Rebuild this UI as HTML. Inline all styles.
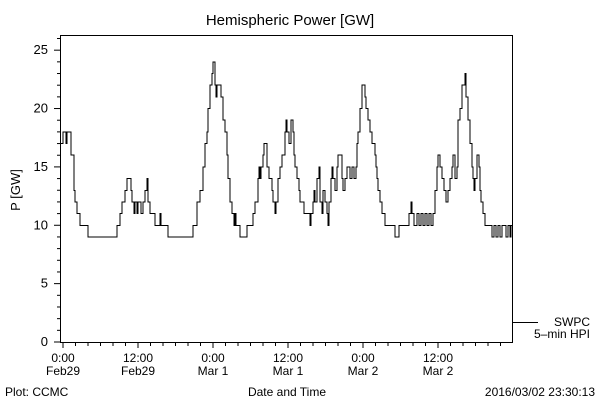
<!DOCTYPE html>
<html><head><meta charset="utf-8"><style>
body{margin:0;background:#fff}
svg{display:block;font-family:"Liberation Sans",sans-serif}
</style></head><body>
<svg id="c" width="600" height="400" xmlns="http://www.w3.org/2000/svg">
<rect width="600" height="400" fill="#fff"/>
<text x="290" y="25" font-size="15" text-anchor="middle">Hemispheric Power [GW]</text>
<text transform="translate(20,190) rotate(-90)" font-size="13" text-anchor="middle">P [GW]</text>
<text x="287" y="396" font-size="12" text-anchor="middle">Date and Time</text>
<text x="5" y="396" font-size="12">Plot: CCMC</text>
<text x="595" y="396" font-size="12" text-anchor="end">2016/03/02 23:30:13</text>
<rect x="60.5" y="35.5" width="452" height="307" fill="none" stroke="#000" stroke-width="1"/>
<line x1="512" y1="322.5" x2="538" y2="322.5" stroke="#000"/>
<text x="590" y="326" font-size="12" text-anchor="end">SWPC</text>
<text x="590" y="338" font-size="12" text-anchor="end">5–min HPI</text>
<g id="axes"></g>
<path id="series" fill="none" stroke="#000" stroke-width="1" shape-rendering="crispEdges"/>
</svg>
<script>
const hours=[-0.48,0,0.48,0.64,1.28,1.76,1.92,2.24,2.72,4,8.64,9.12,9.44,9.92,10.24,10.88,11.04,11.36,11.52,11.84,12,12.48,12.8,13.12,13.44,13.6,13.92,14.56,14.72,15.52,15.68,16.8,20.8,21.44,21.92,22.4,22.72,23.04,23.2,23.52,23.84,24,24.32,24.48,24.64,25.28,25.6,25.92,26.24,26.4,26.72,27.04,27.36,27.52,27.68,28.32,29.44,30.4,30.72,31.2,31.36,31.52,31.68,32,32.16,32.64,32.96,33.44,33.6,33.92,34.08,34.4,34.72,35.04,35.52,35.68,35.84,36.16,36.48,36.8,36.96,37.12,37.44,37.76,37.92,38.24,38.56,39.52,39.68,40,40.16,40.32,40.64,40.96,41.12,41.44,41.6,41.92,42.24,42.4,42.56,42.88,43.04,43.2,43.52,43.84,44,44.32,44.64,44.8,45.12,45.44,45.92,46.24,46.56,46.88,47.04,47.2,47.52,47.84,48.32,48.48,48.8,49.12,49.44,49.92,50.08,50.24,50.4,50.72,51.04,51.52,53.12,53.76,55.2,55.36,55.68,55.84,56.16,56.64,56.96,57.28,57.6,57.92,58.24,58.56,58.88,59.2,59.52,59.84,60,60.32,60.64,60.96,61.28,61.6,61.92,62.24,62.4,62.72,63.04,63.2,63.52,63.84,64.16,64.32,64.48,64.8,65.12,65.44,65.6,65.76,65.92,66.24,66.56,66.72,66.88,67.2,67.52,68.64,68.96,69.28,69.6,69.92,70.24,70.56,70.88,71.2,71.52,71.68];
const power=[17,18,17,18,16,13,12,11,10,9,10,11,12,13,14,13,12,11,12,11,12,11,12,13,14,12,11,11,10,11,10,9,10,12,13,15,17,18,20,22,23,24,22,21,22,21,19,18,16,14,12,11,10,11,10,9,10,11,12,14,15,14,15,16,17,15,14,13,12,11,12,14,15,16,18,19,18,17,19,18,16,15,14,13,12,12,11,10,11,12,13,12,14,15,12,11,13,12,11,10,12,14,15,14,13,15,16,16,14,13,14,15,14,15,14,15,17,18,20,22,21,20,19,18,17,16,15,14,13,12,11,10,9,10,10,11,12,11,10,11,10,11,10,11,10,11,10,11,13,15,16,15,14,13,12,13,14,15,16,14,15,19,20,22,22,23,21,19,17,15,14,13,14,16,15,13,12,11,10,9,10,9,10,9,10,10,9,10,9,10];
const yTicks=[0,5,10,15,20,25];
const xTickHours=[0,12,24,36,48,60];
const xTickLine1=["0:00","12:00","0:00","12:00","0:00","12:00"];
const xTickLine2=["Feb29","Feb29","Mar 1","Mar 1","Mar 2","Mar 2"];
const X0=60,X1=512,Y0=342,Y1=35,HMIN=-0.48,HMAX=71.84,VMIN=0,VMAX=26.3;
const xs=h=>X0+(h-HMIN)/(HMAX-HMIN)*(X1-X0);
const ys=v=>Y0-(v-VMIN)/(VMAX-VMIN)*(Y0-Y1);
const NS="http://www.w3.org/2000/svg";
const ax=document.getElementById('axes');
function mk(tag,attrs){const e=document.createElementNS(NS,tag);for(const k in attrs)e.setAttribute(k,attrs[k]);ax.appendChild(e);return e;}
for(let v=0;v<=26;v++){
  const major=v%5===0;
  const t=mk('line',{x1:60-(major?6:3),x2:60,y1:ys(v),y2:ys(v),stroke:'#000'});
  
  
}
yTicks.forEach(v=>{
  const t=mk('text',{x:48,y:ys(v)+4,'font-size':13,'text-anchor':'end'});
  
  
  t.textContent=v;
});
for(let h=0;h<=71;h+=2){
  const major=h%12===0;
  const t=mk('line',{x1:xs(h),x2:xs(h),y1:342,y2:342+(major?6:4),stroke:'#000'});
  
  
}
xTickHours.forEach((h,i)=>{
  const a=mk('text',{x:xs(h),y:362,'font-size':12,'text-anchor':'middle'});
  
  
  a.textContent=xTickLine1[i];
  const b=mk('text',{x:xs(h),y:375,'font-size':12,'text-anchor':'middle'});
  
  
  b.textContent=xTickLine2[i];
});
let d='M'+xs(hours[0])+' '+ys(power[0]);
for(let i=1;i<hours.length;i++){d+=' H'+xs(hours[i]).toFixed(2)+' V'+ys(power[i]).toFixed(2);}
d+=' H'+X1;
document.getElementById('series').setAttribute('d',d);
</script>
</body></html>
